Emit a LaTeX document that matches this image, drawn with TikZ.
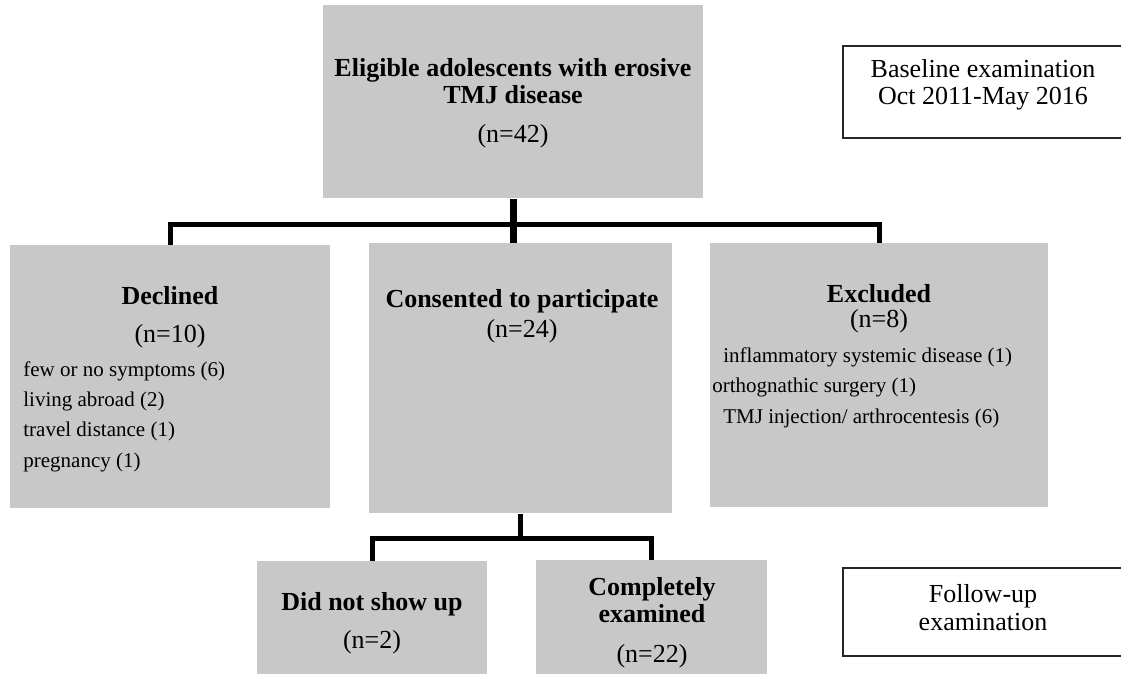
\documentclass[tikz,border=0pt]{standalone}
\usepackage{fontspec}
\setmainfont{Liberation Serif}
\definecolor{boxgray}{HTML}{C8C8C8}
\newcommand*\pxu{0.5pt}
\tikzset{stage/.style 2 args={
    rectangle,
    fill=boxgray,
    anchor=north west,
    inner sep=0pt,
    minimum width=#1*\pxu,
    minimum height=#2*\pxu
},
period/.style 2 args={
    rectangle,
    draw=black!85,
    line width=0.8pt,
    anchor=north west,
    inner sep=0pt,
    minimum width=#1*\pxu,
    minimum height=#2*\pxu
},
head/.style={anchor=base, inner sep=0pt, font=\fontsize{13}{15}\selectfont\bfseries},
count/.style={anchor=base, inner sep=0pt, font=\fontsize{13}{15}\selectfont},
reason/.style={anchor=base west, inner sep=0pt, font=\fontsize{10.5}{12}\selectfont},
link/.style={line width=2.5pt}
}

\begin{document}
\begin{tikzpicture}[x=\pxu,y=-\pxu]
    \useasboundingbox (0,0) rectangle (1121,674);
    \clip (0,0) rectangle (1121,674);

    % The grey boxes, placed by their top left corner.
    \node[stage={380}{193}] (top) at (323,5) {};
    \node[stage={320}{263}] (decl) at (10,245) {};
    \node[stage={303}{270}] (cons) at (369,243) {};
    \node[stage={338}{264}] (excl) at (710,243) {};
    \node[stage={230}{125}] (noshow) at (257,561) {};
    \node[stage={231}{125}] (complete) at (536,560) {};

    % The two period boxes on the right (they run off the page).
    \node[period={290}{92}] (baseline) at (842,45) {};
    \node[period={290}{88}] (followup) at (842,567) {};

    % Connectors.
    \coordinate (fork) at (513,225);
    \coordinate (fork2) at (cons.south |- 0,538);
    \draw[link, line width=3.5pt] (top.south) -- (top.south |- cons.north);
    \draw[link] (decl.north) |- (fork) -| (excl.north);
    \draw[link] (cons.south) -- (fork2);
    \draw[link] (noshow.north) |- (fork2) -| (complete.north);

    % Top box.
    \node[head] (toph1) at (513,77) {Eligible adolescents with erosive};
    \node[head] (toph2) at (513,104) {TMJ disease};
    \node[count] (topn) at (513,143) {(n=42)};

    % Declined.
    \node[head] (declh) at (170,305) {Declined};
    \node[count] (decln) at (170,343) {(n=10)};
    \foreach \y/\why [count=\i] in {377/few or no symptoms (6),407/living abroad (2),
        437/travel distance (1),467/pregnancy (1)}
        \node[reason] (declr\i) at (23,\y) {\why};

    % Consented.
    \node[head] (consh) at (522,307) {Consented to participate};
    \node[count] (consn) at (522,337) {(n=24)};

    % Excluded.
    \node[head] (exclh) at (879,302) {Excluded};
    \node[count] (excln) at (879,328) {(n=8)};
    \node[reason] (exclr1) at (723,363) {inflammatory systemic disease (1)};
    \node[reason] (exclr2) at (712,393) {orthognathic surgery (1)};
    \node[reason] (exclr3) at (723,423) {TMJ injection/ arthrocentesis (6)};

    % Follow-up boxes.
    \node[head] (noshowh) at (372,610) {Did not show up};
    \node[count] (noshown) at (372,648) {(n=2)};
    \node[head] (completeh1) at (652,595) {Completely};
    \node[head] (completeh2) at (652,622) {examined};
    \node[count] (completen) at (652,662) {(n=22)};

    % Period labels.
    \node[count] (baselinet1) at (983,78) {Baseline examination};
    \node[count] (baselinet2) at (983,105) {Oct 2011-May 2016};
    \node[count] (followupt1) at (983,602) {Follow-up};
    \node[count] (followupt2) at (983,630) {examination};

\end{tikzpicture}
\end{document}
